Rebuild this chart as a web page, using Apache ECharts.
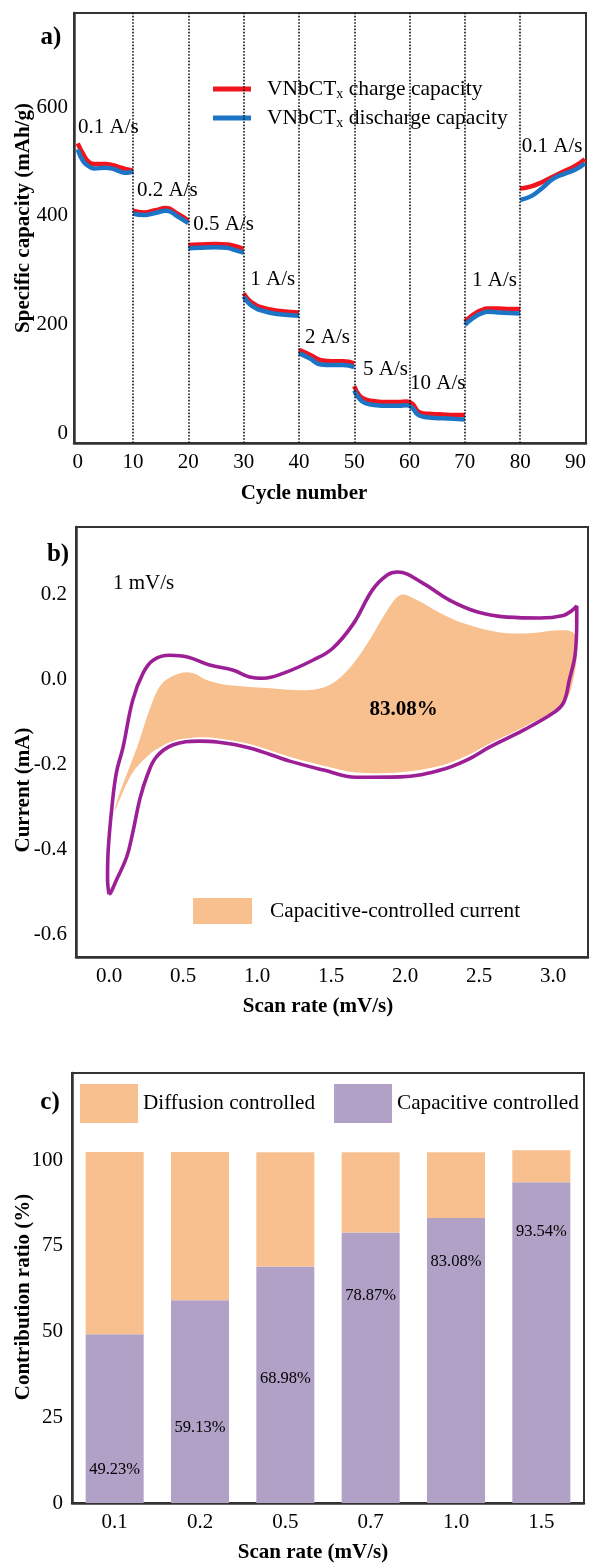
<!DOCTYPE html>
<html>
<head>
<meta charset="utf-8">
<script src="https://cdn.jsdelivr.net/npm/echarts@6/dist/echarts.min.js"></script>
<style>
html, body { margin: 0; padding: 0; background: #fff; }
#main { width: 595px; height: 1563px; }
</style>
</head>
<body>
<div id="main"></div>
<script>
const FONT = '"Liberation Serif", "Times New Roman", serif';
const INK = '#000';
const FRAME = '#333';

// ---------- (a) rate capability ----------
// [cycle, capacity mAh/g], one block per current-density step
const chargeSegments = [
  [[0,533],[1,513],[2,499],[3,495],[5,495],[6,494],[7,491],[8,488],[9,485],[10,483]],
  [[10,409],[12,406],[14,410],[16,414],[18,404],[20,391]],
  [[20,346],[22,347],[25,348],[27,347],[28,345],[30,339]],
  [[30,257],[31,244],[32,237],[33,232],[35,227],[37,224],[40,222]],
  [[40,153],[42,144],[44,134],[46,132],[48,132],[50,128]],
  [[50,86],[51,68],[52,62],[54,58],[56,57],[58,57],[59.5,58],[60.5,54],[61.5,40],[62.5,36],[64,35],[66,34],[68,33],[70,33]],
  [[70,205],[71,214],[72,221],[73,226],[74,229],[76,229],[78,228],[80,228]],
  [[80,450],[82,454],[84,462],[86,472],[88,482],[90,492],[91.7,504]]
];
const dischargeSegments = [
  [[0,522],[1,500],[2,491],[3,487],[5,488],[6,487],[7,484],[8,480],[9,479],[10,482]],
  [[10,404],[12,401],[14,405],[16,409],[18,399],[20,386]],
  [[20,340],[22,341],[25,342],[27,341],[28,338],[30,332]],
  [[30,251],[31,238],[32,231],[33,226],[35,221],[37,218],[40,216]],
  [[40,147],[42,137],[44,126],[46,125],[48,125],[50,121]],
  [[50,78],[51,62],[52,55],[54,51],[56,50],[58,50],[59.5,51],[60.5,46],[61.5,34],[62.5,30],[64,28],[66,27],[68,26],[70,25]],
  [[70,199],[71,208],[72,215],[73,220],[74,223],[76,222],[78,221],[80,220]],
  [[80,429],[82,436],[84,451],[86,468],[88,477],[90,485],[91.7,496]]
];
const rateLabels = ['0.1 A/s','0.2 A/s','0.5 A/s','1 A/s','2 A/s','5 A/s','10 A/s','1 A/s','0.1 A/s'];
const rateLabelAnchors = [[0.05,563],[10.7,447],[20.9,383],[31.2,282],[41.1,175],[51.6,116],[60.1,92],[71.3,280],[80.3,528]];
const rateBoundaries = [10,20,30,40,50,60,70,80];
const cycleTicks = [0,10,20,30,40,50,60,70,80,90];
const capacityTicks = [0,200,400,600];

// ---------- (b) CV at 1 mV/s ----------
const cvLoop = [
  [0.0,-0.506],[-0.01,-0.47],[-0.005,-0.40],[0.02,-0.30],[0.05,-0.22],[0.095,-0.16],[0.16,-0.05],
  [0.23,0.014],[0.30,0.045],[0.41,0.056],[0.53,0.052],[0.68,0.033],[0.84,0.021],[0.95,0.005],
  [1.04,0.002],[1.18,0.014],[1.38,0.045],[1.51,0.072],[1.65,0.13],[1.78,0.21],[1.88,0.245],
  [1.95,0.252],[2.12,0.226],[2.30,0.186],[2.49,0.158],[2.69,0.146],[2.91,0.144],[3.07,0.15],
  [3.13,0.162],[3.16,0.172],[3.16,0.139],[3.15,0.061],[3.11,-0.002],[3.07,-0.056],[3.0,-0.08],
  [2.80,-0.12],[2.57,-0.16],[2.42,-0.19],[2.24,-0.214],[1.97,-0.23],[1.67,-0.231],[1.45,-0.214],
  [1.22,-0.193],[0.95,-0.162],[0.73,-0.148],[0.61,-0.146],[0.43,-0.155],[0.32,-0.183],[0.26,-0.225],
  [0.21,-0.28],[0.16,-0.362],[0.12,-0.418],[0.05,-0.473],[0.01,-0.504],[0.0,-0.506]
];
const capacitiveRegion = [
  [0.04,-0.308],[0.07,-0.27],[0.19,-0.16],[0.28,-0.066],[0.36,-0.01],[0.48,0.014],[0.57,0.014],
  [0.66,-0.002],[0.80,-0.014],[1.07,-0.021],[1.34,-0.026],[1.49,-0.014],[1.63,0.028],[1.76,0.092],
  [1.88,0.162],[1.97,0.198],[2.08,0.186],[2.24,0.155],[2.39,0.132],[2.62,0.111],[2.84,0.108],
  [3.03,0.115],[3.14,0.108],[3.16,0.061],[3.14,0.005],[3.09,-0.049],[2.98,-0.08],[2.80,-0.113],
  [2.57,-0.152],[2.42,-0.18],[2.24,-0.204],[1.97,-0.219],[1.67,-0.22],[1.45,-0.204],[1.22,-0.183],
  [0.95,-0.153],[0.73,-0.139],[0.61,-0.137],[0.43,-0.146],[0.32,-0.165],[0.28,-0.175],[0.16,-0.22]
];
const cvNotes = [
  { text: '1 mV/s', at: [0.027, 0.226], bold: false },
  { text: '83.08%', at: [1.99, -0.071], bold: true }
];
const scanTicks = [0,0.5,1.0,1.5,2.0,2.5,3.0];
const currentTicks = [-0.6,-0.4,-0.2,0,0.2];

// ---------- (c) contribution ratio ----------
const scanRates = ['0.1','0.2','0.5','0.7','1.0','1.5'];
const capacitiveShare = [49.23,59.13,68.98,78.87,83.08,93.54];
const diffusionShare = [53.1,43.2,33.3,23.4,19.2,9.3];
const shareLabelLevels = [9.6,21.9,36.4,60.6,70.3,79.0];
const ratioTicks = [0,25,50,75,100];

// break a list of segments into one line with gaps between steps
function joinSegments(segs) {
  const out = [];
  segs.forEach((seg, i) => {
    if (i) out.push([seg[0][0], null]);
    seg.forEach(p => out.push(p));
  });
  return out;
}

const tickLabel = (extra) => Object.assign({ fontFamily: FONT, fontSize: 21, color: INK }, extra);
const frameLine = { show: true, onZero: false, lineStyle: { color: FRAME, width: 2.5 } };
const titleText = (x, y, text, rotated) => ({
  type: 'text', x, y, rotation: rotated ? Math.PI / 2 : 0,
  style: { text, font: 'bold 21px ' + FONT, fill: INK, textAlign: 'center', textVerticalAlign: 'middle' }
});
const panelTag = (x, y, text) => ({
  type: 'text', x, y,
  style: { text, font: 'bold 25px ' + FONT, fill: INK, textAlign: 'center', textVerticalAlign: 'middle' }
});
// invisible carrier points for in-plot text
const textCarrier = { symbolSize: 0, silent: true, z: 5, itemStyle: { opacity: 1 } };

const chart = echarts.init(document.getElementById('main'), null, { renderer: 'canvas' });

chart.setOption({
  animation: false,
  backgroundColor: '#fff',
  textStyle: { fontFamily: FONT },
  grid: [
    { left: 74, top: 13, width: 512, height: 430, show: true, borderColor: FRAME, borderWidth: 2 },
    { left: 76, top: 527, width: 512, height: 430, show: true, borderColor: FRAME, borderWidth: 2 },
    { left: 72, top: 1073, width: 512, height: 430, show: true, borderColor: FRAME, borderWidth: 2 }
  ],
  xAxis: [
    { gridIndex: 0, type: 'value', min: -0.67, max: 91.9, axisLine: frameLine, axisTick: { show: false },
      splitLine: { show: false }, axisLabel: tickLabel({ customValues: cycleTicks, margin: 9 }) },
    { gridIndex: 1, type: 'value', min: -0.223, max: 3.236, axisLine: frameLine, axisTick: { show: false },
      splitLine: { show: false },
      axisLabel: tickLabel({ customValues: scanTicks, margin: 9, formatter: v => v.toFixed(1) }) },
    { gridIndex: 2, type: 'category', data: scanRates, axisLine: frameLine, axisTick: { show: false },
      splitLine: { show: false }, axisLabel: tickLabel({ margin: 9 }) }
  ],
  yAxis: [
    { gridIndex: 0, type: 'value', min: -18.4, max: 773, axisLine: frameLine, axisTick: { show: false },
      splitLine: { show: false }, axisLabel: tickLabel({ customValues: capacityTicks, margin: 6 }) },
    { gridIndex: 1, type: 'value', min: -0.654, max: 0.358, axisLine: frameLine, axisTick: { show: false },
      splitLine: { show: false },
      axisLabel: tickLabel({ customValues: currentTicks, margin: 9, formatter: v => v.toFixed(1) }) },
    { gridIndex: 2, type: 'value', min: 0, max: 125.4, axisLine: frameLine, axisTick: { show: false },
      splitLine: { show: false }, axisLabel: tickLabel({ customValues: ratioTicks, margin: 9 }) }
  ],
  legend: [
    {
      data: ['VNbCTx charge capacity', 'VNbCTx discharge capacity'],
      orient: 'vertical', left: 213, top: 78, padding: 0, itemWidth: 38, itemHeight: 5, itemGap: 6,
      icon: 'rect', selectedMode: false,
      formatter: name => '{n|VNbCT}{s|x}{n|' + name.replace('VNbCTx', '') + '}',
      textStyle: {
        padding: [0, 0, 0, 11],
        rich: {
          n: { fontFamily: FONT, fontSize: 21.5, color: INK, lineHeight: 24 },
          s: { fontFamily: FONT, fontSize: 14, color: INK, lineHeight: 14, verticalAlign: 'bottom' }
        }
      }
    },
    {
      data: ['Capacitive-controlled current'],
      left: 193, top: 898, padding: 0, itemWidth: 59, itemHeight: 26, icon: 'rect', selectedMode: false,
      textStyle: { fontFamily: FONT, fontSize: 21.3, color: INK, padding: [0, 0, 0, 13] }
    },
    {
      data: ['Diffusion controlled', 'Capacitive controlled'],
      left: 80, top: 1084, padding: 0, itemWidth: 58, itemHeight: 39, itemGap: 19, icon: 'rect',
      selectedMode: false,
      textStyle: { fontFamily: FONT, fontSize: 21.2, color: INK }
    }
  ],
  series: [
    {
      name: 'VNbCTx charge capacity', type: 'line', xAxisIndex: 0, yAxisIndex: 0,
      data: joinSegments(chargeSegments), smooth: 0.5, showSymbol: false, connectNulls: false,
      color: '#f0141e', lineStyle: { color: '#f0141e', width: 4.5 }, z: 3,
      markLine: {
        silent: true, symbol: ['none', 'none'], label: { show: false },
        lineStyle: { type: 'dotted', color: '#111', width: 1.6 },
        data: rateBoundaries.map(x => ({ xAxis: x }))
      }
    },
    {
      name: 'VNbCTx discharge capacity', type: 'line', xAxisIndex: 0, yAxisIndex: 0,
      data: joinSegments(dischargeSegments), smooth: 0.5, showSymbol: false, connectNulls: false,
      color: '#1c74c4', lineStyle: { color: '#1c74c4', width: 4.5 }, z: 4
    },
    Object.assign({
      type: 'scatter', xAxisIndex: 0, yAxisIndex: 0,
      data: rateLabelAnchors,
      label: {
        show: true, position: 'right', distance: 0,
        formatter: p => rateLabels[p.dataIndex],
        fontFamily: FONT, fontSize: 21, color: INK
      }
    }, textCarrier),
    {
      name: 'Capacitive-controlled current', type: 'custom', xAxisIndex: 1, yAxisIndex: 1,
      data: capacitiveRegion, encode: { x: 0, y: 1 }, silent: true, z: 1,
      itemStyle: { color: '#f8bf8f' },
      renderItem: (params, api) => {
        if (params.dataIndex !== 0) return { type: 'group', children: [] };
        return {
          type: 'polygon',
          shape: { points: capacitiveRegion.map(p => api.coord(p)), smooth: 0.35 },
          style: { fill: '#f8bf8f', stroke: null }
        };
      }
    },
    {
      name: 'CV', type: 'line', xAxisIndex: 1, yAxisIndex: 1, data: cvLoop,
      smooth: 0.4, showSymbol: false, color: '#9c1f95',
      lineStyle: { color: '#9c1f95', width: 3.6 }, z: 2
    },
    Object.assign({
      type: 'scatter', xAxisIndex: 1, yAxisIndex: 1,
      data: cvNotes.map(n => ({
        value: n.at,
        label: n.bold
          ? { position: 'inside', fontWeight: 'bold', fontSize: 21 }
          : { position: 'right', distance: 0, fontWeight: 'normal', fontSize: 21 }
      })),
      label: {
        show: true, fontFamily: FONT, color: INK,
        formatter: p => cvNotes[p.dataIndex].text
      }
    }, textCarrier),
    {
      name: 'Capacitive controlled', type: 'bar', xAxisIndex: 2, yAxisIndex: 2, stack: 'share',
      data: capacitiveShare, barWidth: 58, itemStyle: { color: '#b1a1c6' }
    },
    {
      name: 'Diffusion controlled', type: 'bar', xAxisIndex: 2, yAxisIndex: 2, stack: 'share',
      data: diffusionShare, barWidth: 58, itemStyle: { color: '#f8bf8f' }
    },
    Object.assign({
      type: 'scatter', xAxisIndex: 2, yAxisIndex: 2,
      data: shareLabelLevels.map((v, i) => [i, v]),
      label: {
        show: true, position: 'inside', fontFamily: FONT, fontSize: 16.5, color: INK,
        formatter: p => capacitiveShare[p.dataIndex].toFixed(2) + '%'
      }
    }, textCarrier)
  ],
  graphic: [
    panelTag(51, 38, 'a)'),
    panelTag(58, 555, 'b)'),
    panelTag(50, 1103, 'c)'),
    titleText(24, 218, 'Specific capacity (mAh/g)', true),
    titleText(24, 790, 'Current (mA)', true),
    titleText(24, 1297, 'Contribution ratio (%)', true),
    titleText(304, 494, 'Cycle number', false),
    titleText(318, 1007, 'Scan rate (mV/s)', false),
    titleText(313, 1553, 'Scan rate (mV/s)', false)
  ]
});
</script>
</body>
</html>
